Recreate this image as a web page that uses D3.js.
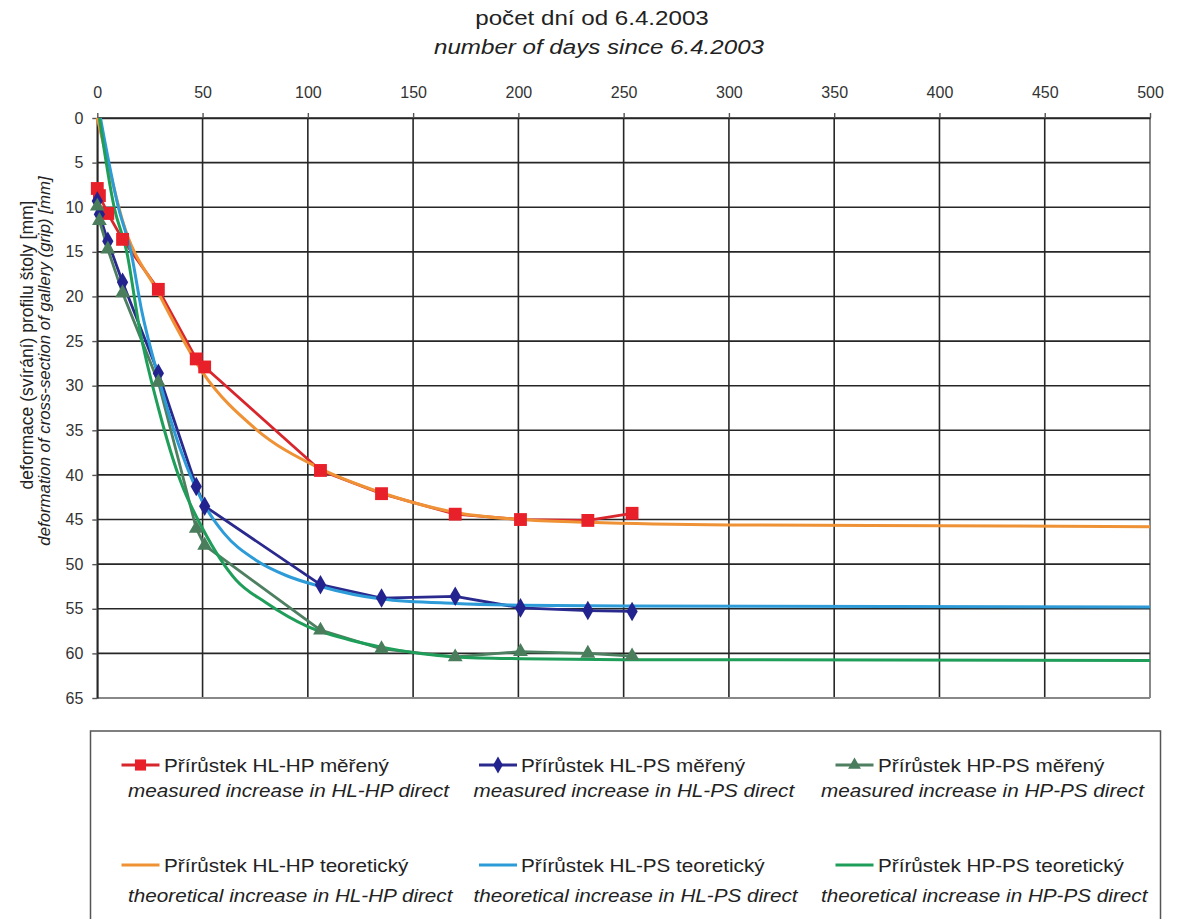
<!DOCTYPE html>
<html>
<head>
<meta charset="utf-8">
<script src="https://cdnjs.cloudflare.com/ajax/libs/d3/7.8.5/d3.min.js"></script>
<style>
  body { margin: 0; background: #fff; }
  svg { display: block; font-family: "Liberation Sans", Arial, sans-serif; }
</style>
</head>
<body>
<div class="board"></div>
<script>
// days since 6.4.2003 and deformation in mm

var days = [0, 1, 5, 12, 29, 47, 51, 106, 135, 170, 201, 233, 254];
var hlhpMeasured = [7.9, 8.7, 10.7, 13.6, 19.2, 27.0, 27.9, 39.5, 42.1, 44.4, 45.0, 45.1, 44.3];
var hlpsMeasured = [9.3, 10.8, 13.8, 18.4, 28.6, 41.3, 43.5, 52.3, 53.8, 53.6, 54.9, 55.2, 55.3];
var hppsMeasured = [9.9, 11.5, 14.7, 19.6, 29.6, 46.0, 47.9, 57.4, 59.5, 60.4, 59.8, 60.0, 60.3];

var hlhpTheoryDays = [0, 5, 12, 29, 50, 75, 106, 135, 170, 201, 233, 300, 400, 500];
var hlhpTheory = [0, 5.0, 11.5, 19.6, 28.5, 34.8, 39.3, 42.0, 44.2, 45.0, 45.3, 45.6, 45.7, 45.8];
var hlpsTheoryDays = [1.5, 10, 16, 21, 29, 40, 50, 60, 75, 90, 106, 135, 170, 201, 250, 500];
var hlpsTheory = [0, 10, 15, 21.5, 29, 37.5, 43, 46.5, 49.5, 51.3, 52.5, 53.9, 54.4, 54.6, 54.7, 54.8];
var hppsTheoryDays = [1, 8, 14, 20, 29, 40, 50, 66, 80, 100, 120, 135, 170, 201, 250, 500];
var hppsTheory = [0, 10, 15, 23.5, 32.5, 41, 46, 51.8, 54.3, 57.0, 58.5, 59.3, 60.4, 60.6, 60.7, 60.8];

var xTicks = [0, 50, 100, 150, 200, 250, 300, 350, 400, 450, 500];
var yTicks = [0, 5, 10, 15, 20, 25, 30, 35, 40, 45, 50, 55, 60, 65];

var legendCz = [
  'Přírůstek HL-HP měřený', 'Přírůstek HL-PS měřený', 'Přírůstek HP-PS měřený',
  'Přírůstek HL-HP teoretický', 'Přírůstek HL-PS teoretický', 'Přírůstek HP-PS teoretický'
];
var legendEn = [
  'measured increase in HL-HP direct', 'measured increase in HL-PS direct', 'measured increase in HP-PS direct',
  'theoretical increase in HL-HP direct', 'theoretical increase in HL-PS direct', 'theoretical increase in HP-PS direct'
];

var width = 1179;
var height = 919;
var stretch = 1.15; // the source picture is squashed a bit, text looks wide

var svg = d3.select('.board').append('svg')
  .attr('width', width)
  .attr('height', height);

svg.append('rect').attr('width', width).attr('height', height).attr('fill', '#fff');

var x = d3.scaleLinear().domain([0, 500]).range([97.3, 1150]);
var y = d3.scaleLinear().domain([0, 65]).range([118, 698]);

// helper for the wide-ish text
var label = function(px, py, str, size, anchor, italic) {
  var g = svg.append('g').attr('transform', 'translate(' + px + ',' + py + ') scale(' + stretch + ',1)');
  g.append('text')
    .attr('text-anchor', anchor)
    .attr('font-size', size)
    .attr('font-style', italic ? 'italic' : 'normal')
    .attr('fill', '#222')
    .text(str);
  return g;
};

// grid
svg.append('g').selectAll('line.v')
  .data(xTicks)
  .enter().append('line')
  .attr('x1', function(d) { return x(d); })
  .attr('x2', function(d) { return x(d); })
  .attr('y1', y(0))
  .attr('y2', y(65))
  .attr('stroke', function(d) { return d === 500 ? '#888' : '#262626'; })
  .attr('stroke-width', function(d) { return d === 500 ? 2 : 1.6; });

svg.append('g').selectAll('line.h')
  .data(yTicks)
  .enter().append('line')
  .attr('x1', x(0))
  .attr('x2', x(500))
  .attr('y1', function(d) { return y(d); })
  .attr('y2', function(d) { return y(d); })
  .attr('stroke', function(d) { return d === 65 ? '#888' : '#262626'; })
  .attr('stroke-width', function(d) { return d === 65 ? 2 : 1.6; });

// axes
var xAxis = svg.append('g')
  .attr('transform', 'translate(0,' + y(0) + ')')
  .call(d3.axisTop(x).tickValues(xTicks).tickSize(5).tickPadding(15).tickSizeOuter(0));
var yAxis = svg.append('g')
  .attr('transform', 'translate(' + x(0) + ',0)')
  .call(d3.axisLeft(y).tickValues(yTicks).tickSize(5).tickPadding(9).tickSizeOuter(0));

[xAxis, yAxis].forEach(function(ax) {
  ax.select('.domain').attr('stroke', '#262626').attr('stroke-width', 1.6);
  ax.selectAll('.tick line').attr('stroke', '#555').attr('stroke-width', 1.4);
  ax.selectAll('.tick text')
    .attr('font-size', 16)
    .attr('font-family', '"Liberation Sans", Arial, sans-serif')
    .attr('fill', '#333');
});

// titles
label(592, 25, 'počet dní od 6.4.2003', 21, 'middle', false);
label(599, 54, 'number of days since 6.4.2003', 21, 'middle', true);

svg.append('text')
  .attr('transform', 'translate(33,345) rotate(-90)')
  .attr('text-anchor', 'middle')
  .attr('font-size', 17.5)
  .attr('fill', '#222')
  .text('deformace (svírání) profilu štoly [mm]');
svg.append('text')
  .attr('transform', 'translate(50,361) rotate(-90)')
  .attr('text-anchor', 'middle')
  .attr('font-size', 16.8)
  .attr('font-style', 'italic')
  .attr('fill', '#222')
  .text('deformation of cross-section of gallery (grip) [mm]');

// series
var measured = [
  { vals: hlhpMeasured, line: '#d8262d', fill: '#e8202a', shape: d3.symbolSquare, size: 165 },
  { vals: hlpsMeasured, line: '#2a2a8e', fill: '#23238f', shape: d3.symbolDiamond, size: 110 },
  { vals: hppsMeasured, line: '#4d7f60', fill: '#497d5b', shape: d3.symbolTriangle, size: 95 }
];
var theory = [
  { xs: hlhpTheoryDays, vals: hlhpTheory, line: '#ef9236' },
  { xs: hlpsTheoryDays, vals: hlpsTheory, line: '#2c9bd7' },
  { xs: hppsTheoryDays, vals: hppsTheory, line: '#1f9e5a' }
];

var straight = d3.line()
  .x(function(d) { return x(d[0]); })
  .y(function(d) { return y(d[1]); });
var smooth = d3.line()
  .curve(d3.curveMonotoneX)
  .x(function(d) { return x(d[0]); })
  .y(function(d) { return y(d[1]); });

measured.forEach(function(s) {
  svg.append('path')
    .datum(d3.zip(days, s.vals))
    .attr('d', straight)
    .attr('fill', 'none')
    .attr('stroke', s.line)
    .attr('stroke-width', 2.8)
    .attr('stroke-linejoin', 'round');
});

theory.forEach(function(s) {
  svg.append('path')
    .datum(d3.zip(s.xs, s.vals))
    .attr('d', smooth)
    .attr('fill', 'none')
    .attr('stroke', s.line)
    .attr('stroke-width', 3);
});

measured.forEach(function(s) {
  svg.append('g').selectAll('path')
    .data(d3.zip(days, s.vals))
    .enter().append('path')
    .attr('transform', function(d) { return 'translate(' + x(d[0]) + ',' + y(d[1]) + ')'; })
    .attr('d', d3.symbol().type(s.shape).size(s.size))
    .attr('fill', s.fill);
});

// legend
svg.append('rect')
  .attr('x', 90.5).attr('y', 731)
  .attr('width', 1070).attr('height', 220)
  .attr('fill', 'none')
  .attr('stroke', '#555')
  .attr('stroke-width', 1.5);

var colMarker = [140.5, 498, 854.5];
var colText = [164, 521, 878];
var colItalic = [128, 473.5, 821];
var rowBase = [772, 872];
var rowItalic = [797, 902];
var allSeries = measured.concat(theory);

allSeries.forEach(function(s, i) {
  var c = i % 3;
  var r = Math.floor(i / 3);
  var my = rowBase[r] - 7;
  svg.append('line')
    .attr('x1', colMarker[c] - 19).attr('x2', colMarker[c] + 19)
    .attr('y1', my).attr('y2', my)
    .attr('stroke', s.line)
    .attr('stroke-width', 3);
  if (s.shape) {
    svg.append('path')
      .attr('transform', 'translate(' + colMarker[c] + ',' + my + ')')
      .attr('d', d3.symbol().type(s.shape).size(s.size * 0.75))
      .attr('fill', s.fill);
  }
  label(colText[c], rowBase[r], legendCz[i], 18, 'start', false);
  label(colItalic[c], rowItalic[r], legendEn[i], 18, 'start', true);
});
</script>
</body>
</html>
